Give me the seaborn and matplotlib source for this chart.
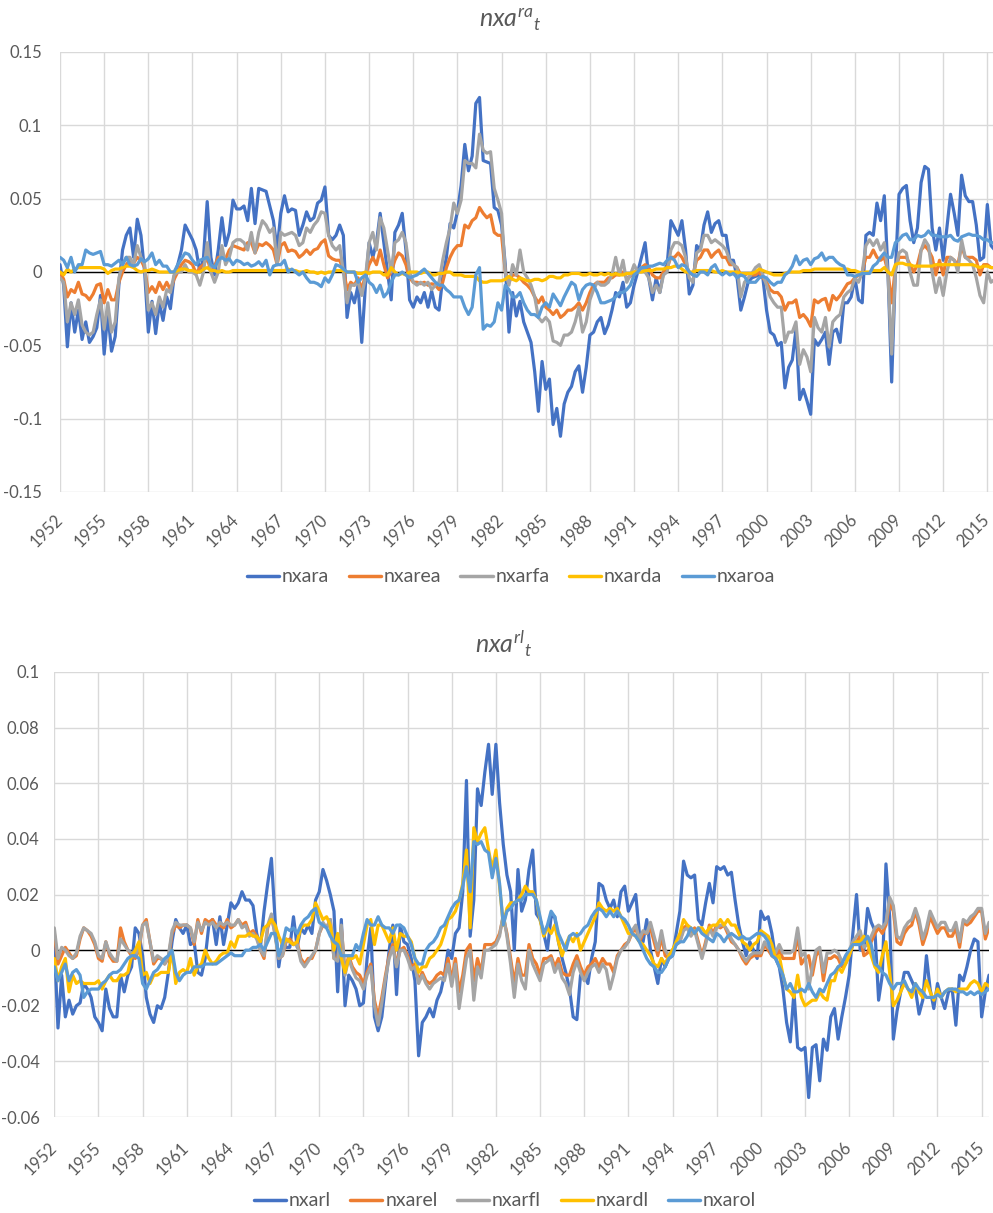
import numpy as np
import pandas as pd
import matplotlib
matplotlib.use("Agg")
import matplotlib.pyplot as plt
from matplotlib.lines import Line2D
import seaborn as sns

# quarterly, 1952Q1 - 2015Q3, values in thousandths
names_a = ['nxara', 'nxarea', 'nxarfa', 'nxarda', 'nxaroa']
names_l = ['nxarl', 'nxarel', 'nxarfl', 'nxardl', 'nxarol']
colors = ['#4472C4', '#ED7D31', '#A5A5A5', '#FFC000', '#5B9BD5']

nxara = [
    5, -9, -51, -21, -41, -26, -46, -34, -48, -44, -38, -16, -56, -28, -54, -44,
    -9, 15, 25, 30, 10, 36, 25, 0, -41, -20, -42, -21, -33, -17, -25, -3,
    5, 15, 32, 27, 22, 15, 0, 10, 48, 10, -2, 15, 37, 18, 27, 49,
    43, 43, 45, 35, 57, 33, 57, 56, 55, 45, 35, 15, 40, 52, 41, 43,
    42, 25, 32, 41, 35, 37, 47, 49, 58, 25, 22, 25, 32, 25, -31, -14,
    -21, -9, -48, -9, 20, 10, 20, 40, 20, 0, -19, 27, 32, 40, 15, -19,
    -24, -17, -21, -14, -24, -13, -24, -26, -4, 10, 33, 30, 41, 59, 87, 69,
    79, 115, 119, 76, 75, 74, 44, 42, 32, 5, -41, -14, -30, -20, -34, -41,
    -48, -68, -95, -61, -80, -73, -104, -93, -112, -90, -82, -78, -68, -64, -82, -65,
    -43, -41, -34, -31, -42, -36, -26, -14, -17, -7, -24, -21, -9, 0, 10, 20,
    -4, -19, -4, -14, 0, 5, 35, 30, 25, 35, 15, -15, -9, 18, 15, 32,
    41, 27, 33, 35, 25, 25, 8, 8, -4, -26, -17, -7, -4, -3, -2, -4,
    -26, -41, -43, -50, -48, -79, -65, -60, -39, -87, -80, -88, -97, -46, -50, -46,
    -41, -63, -41, -39, -48, -21, -21, -17, -4, -19, -21, 25, 27, 25, 47, 35,
    52, 0, -75, 0, 53, 57, 59, 35, 20, 30, 61, 72, 70, 30, 15, 30,
    8, 30, 53, 40, 25, 66, 52, 48, 48, 32, 8, 10, 46, 18, 15]
nxarea = [
    0, -5, -17, -12, -14, -7, -15, -16, -19, -15, -9, -8, -21, -12, -19, -19,
    -7, 0, 5, 8, 6, 10, 8, 3, -14, -10, -14, -7, -12, -7, -12, -5,
    0, 5, 8, 7, 5, -1, 3, 5, 10, 0, 4, 10, 10, 9, 15, 18,
    17, 16, 15, 20, 20, 13, 19, 18, 20, 18, 15, 5, 18, 20, 14, 15,
    14, 10, 12, 15, 12, 15, 16, 20, 22, 11, 9, 8, 8, 2, -12, -7,
    -9, -4, -12, -2, 5, 10, 5, 15, 5, -4, 0, 8, 13, 11, 5, -4,
    -7, -7, -8, -7, -9, -8, -9, -12, -7, 3, 10, 15, 18, 18, 32, 30,
    35, 37, 44, 40, 37, 39, 27, 25, 25, 0, -7, -2, -2, -4, -7, -9,
    -12, -17, -21, -17, -24, -26, -29, -26, -31, -29, -26, -26, -24, -21, -26, -21,
    -14, -9, -7, -7, -7, -4, -4, -2, -2, 0, -4, -3, 0, 0, 3, 5,
    3, -2, -4, -4, 0, 3, 10, 10, 13, 10, 5, 0, -2, 8, 10, 15,
    15, 10, 13, 15, 10, 10, 5, 5, 3, -2, -2, -1, -2, -2, 0, -4,
    -7, -12, -14, -14, -17, -26, -21, -21, -19, -31, -29, -32, -37, -19, -21, -19,
    -18, -26, -16, -19, -16, -12, -8, -7, -4, -2, 0, 10, 10, 15, 10, 8,
    10, 0, -21, 3, 10, 10, 10, 5, 0, 5, 15, 18, 15, 10, -2, 8,
    -2, 10, 10, 8, 5, 18, 10, 10, 10, 8, -2, 5, 5, 3, 3]
nxarfa = [
    -4, -7, -34, -21, -29, -19, -36, -41, -43, -41, -29, -19, -39, -21, -41, -34,
    -4, 5, 10, 10, 5, 18, 10, 5, -26, -21, -29, -17, -24, -12, -14, -2,
    0, 0, 5, 0, 0, -2, -9, 0, 20, 0, -7, 0, 18, 5, 10, 20,
    22, 22, 20, 15, 27, 13, 27, 35, 32, 27, 30, 5, 27, 25, 26, 27,
    25, 18, 20, 30, 27, 32, 35, 41, 40, 25, 18, 15, 18, 0, -21, -9,
    -9, -7, -16, -4, 20, 27, 15, 37, 30, 15, 0, 20, 22, 27, 20, 0,
    -7, -9, -7, -9, -7, -12, -9, -7, 8, 20, 30, 47, 40, 49, 76, 74,
    74, 71, 94, 83, 81, 82, 57, 49, 40, 0, -9, 5, -2, 15, 0, -4,
    -9, -17, -31, -34, -31, -34, -47, -48, -50, -43, -43, -41, -34, -24, -41, -34,
    -19, -12, -7, -9, -9, -7, -2, 10, -2, 8, -7, -2, 5, 0, 3, 0,
    -4, -14, -9, -14, -2, 0, 15, 20, 20, 18, 10, -4, -7, 13, 15, 25,
    25, 20, 22, 20, 18, 15, 8, 5, 3, -17, -7, -4, -1, 3, 5, -2,
    -9, -17, -21, -24, -24, -48, -41, -41, -34, -63, -53, -58, -68, -31, -38, -41,
    -31, -51, -34, -31, -29, -17, -14, -12, -4, -7, 0, 18, 22, 18, 22, 15,
    20, -2, -56, 0, 13, 15, 13, 0, -9, -9, 15, 22, 18, 0, -14, -4,
    -16, 0, 10, 8, 0, 22, 10, 8, 5, -4, -16, -21, 0, -7, -5]
nxarda = [
    0, -2, 2, 0, 2, 3, 3, 3, 3, 3, 3, 3, 2, -1, 1, 2,
    2, 3, 4, 4, 3, 1, 0, 1, 1, 2, 1, 0, 0, 0, 0, 0,
    1, 2, 2, 1, 1, 0, 0, 2, 3, 1, 1, 0, 1, 0, 0, 1,
    1, 1, 1, 1, 1, 1, 1, 1, 1, 1, 1, 1, 1, 1, 2, 1,
    1, 0, 0, 1, 0, 0, -1, 0, -1, 0, 0, 1, 1, 1, 0, 0,
    0, -1, -1, 0, -1, 0, 0, 0, -2, -2, 3, 0, -2, -1, -2, 0,
    0, 0, -1, 0, 0, -2, -2, -1, -1, 0, 0, -2, -2, -2, -3, -3,
    -3, -3, -6, -7, -7, -6, -6, -6, -6, -5, -3, -5, -6, -4, -5, -6,
    -6, -5, -5, -6, -5, -3, -3, -4, -4, -2, -2, -1, -1, -1, -2, -2,
    -1, -2, -2, -1, -2, -1, -2, -1, -2, -2, -1, -1, 0, 0, 0, 1,
    1, 1, 2, 2, 2, 3, 3, 4, 4, 2, 0, 0, 0, 1, 1, 1,
    1, 1, 0, 0, 1, 0, 0, 0, 0, -1, -1, -1, -1, 0, 2, 1,
    0, -1, -2, -2, -2, -1, 0, 0, 0, 0, 1, 1, 1, 2, 2, 2,
    2, 2, 2, 2, 2, 2, 2, 1, 1, 0, -1, 0, 0, 1, 1, 1,
    3, 0, -2, 5, 6, 6, 5, 5, 4, 4, 4, 4, 4, 4, 5, 5,
    5, 5, 5, 5, 5, 5, 5, 5, 5, 4, 3, 4, 4, 3, 3]
nxaroa = [
    10, 8, 3, 10, 0, 5, 5, 15, 13, 12, 13, 14, 5, 5, 4, 6,
    8, 5, 10, 5, 4, 5, 9, 7, 9, 13, 5, 8, 4, 4, 0, 0,
    5, 9, 13, 12, 8, 5, 8, 9, 10, 5, 3, 8, 10, 8, 9, 5,
    8, 7, 5, 6, 4, 5, 7, 4, 8, -2, 4, 5, 5, 8, 0, 2,
    0, -2, 0, -4, -7, -7, -8, -10, -4, -7, -2, 5, 4, 2, 0, 0,
    0, -7, -4, -2, -7, -9, -14, -9, -17, -14, -7, -2, -2, 0, -2, -4,
    -3, -2, 0, 2, -1, -4, -7, -9, -9, -12, -14, -17, -17, -17, -24, -29,
    -24, -2, 3, -39, -36, -37, -34, -21, -26, -9, -12, -17, -17, -14, -21, -26,
    -29, -29, -31, -24, -21, -24, -15, -19, -23, -17, -12, -7, -9, -19, -12, -9,
    -8, -9, -14, -21, -21, -20, -19, -17, -14, -14, -12, -9, -2, 0, 3, 3,
    4, 4, 5, 6, 5, 8, 10, 8, 3, 5, 4, 0, -2, -3, 0, 0,
    -2, 3, 5, 0, -2, 0, -2, -1, -4, -2, -3, -7, -7, -7, -4, -3,
    -4, -7, -9, -7, -7, -2, 0, 4, 11, 5, 8, 9, 5, 9, 10, 13,
    8, 10, 10, 7, 5, 4, -2, -2, -3, -2, -1, -1, -1, 4, 6, 10,
    13, 10, 10, 20, 22, 25, 26, 22, 22, 25, 24, 25, 28, 25, 25, 24,
    24, 24, 25, 22, 21, 24, 25, 26, 25, 25, 24, 22, 22, 20, 20]

nxarl = [
    3, -28, -9, -24, -18, -23, -20, -19, -12, -14, -17, -24, -26, -29, -14, -21,
    -24, -24, -9, -15, -9, -6, 8, 6, -2, -17, -23, -26, -20, -21, -17, -8,
    3, 11, 8, 6, 9, 2, 3, -8, -9, -3, 9, 11, 2, 12, 2, 9,
    17, 15, 17, 21, 18, 18, 16, 6, 1, 14, 24, 33, 11, -6, 3, 1,
    1, 12, 1, 8, 6, 9, 6, 18, 21, 29, 25, 20, 14, -15, 11, -20,
    -9, -11, -14, -20, -19, -3, 8, -24, -29, -24, -12, 0, 9, -16, 9, 3,
    2, -3, -11, -38, -26, -24, -21, -24, -18, -15, -9, 0, -3, 6, 8, 21,
    61, 5, 18, 58, 52, 64, 74, 56, 74, 53, 38, 27, 21, 0, 29, 14,
    18, 29, 36, 13, 11, 6, 0, 12, 12, 3, -3, -8, -14, -24, -25, -9,
    -9, -12, -3, 3, 24, 23, 18, 15, 18, 12, 21, 23, 14, 17, 20, 6,
    3, 11, 0, -6, -12, -3, -6, -3, -2, 6, 14, 32, 27, 26, 27, 11,
    9, 17, 24, 17, 30, 29, 30, 27, 28, 18, 9, 3, -2, 3, 0, -3,
    14, 11, 12, 6, -3, -6, -14, -26, -33, -15, -35, -36, -35, -53, -35, -34,
    -47, -32, -36, -24, -21, -32, -24, -17, -9, 6, 20, 0, 0, 15, 10, 7,
    -18, -9, 31, 12, -32, -22, -15, -8, -8, -11, -14, -23, -18, -2, -14, -21,
    -12, -17, -21, -15, -14, -27, -9, -11, -6, 0, 4, 3, -24, -15, -9]
nxarel = [
    6, -5, -2, 1, -1, -3, -2, 4, 8, 7, 5, 2, -3, -4, 3, -2,
    -4, -4, 8, 3, 0, -2, -3, 0, 9, 11, 3, -5, -3, -3, -5, -3,
    6, 9, 8, 9, 9, 8, 2, 11, 6, 11, 10, 11, 9, 9, 8, 11,
    8, 9, 11, 9, 10, 6, 7, 5, 0, -3, 8, 12, 6, -3, -2, 3,
    4, 2, 3, -3, -5, -3, -3, 0, 6, 9, 8, 11, -3, -3, 8, -8,
    -2, -6, -8, -9, -12, -8, -5, -18, -24, -17, -9, -2, 2, -5, 0, 1,
    -2, -6, -5, -11, -8, -11, -12, -11, -9, -8, -9, -3, -11, -3, -15, -9,
    0, 2, -11, -3, -8, 2, 2, 2, 3, 6, 12, 6, -3, -12, -3, -9,
    -9, 2, -3, -5, -9, -3, -3, -2, -6, -3, -8, -9, -9, -5, -2, -6,
    -9, -6, -5, -3, -6, -3, -5, -5, -8, -2, 0, 2, 3, 6, 8, 3,
    6, 6, 8, 3, -2, 5, -2, -3, 0, 2, 3, 8, 9, 6, 8, 3,
    -2, 3, 9, 6, 9, 8, 9, 6, 3, 2, 0, -3, -5, -3, -2, -2,
    -2, 2, 0, -2, -3, 0, -3, -3, -3, -3, 6, -5, -3, -2, -9, -2,
    0, -11, -3, -3, -2, -3, -6, -5, -2, 2, 3, 5, -2, -1, 3, 6,
    8, 6, 9, 17, 14, 3, 2, 6, 8, 9, 14, 9, 2, 6, 12, 9,
    6, 8, 8, 5, 5, 8, 1, 10, 9, 10, 12, 14, 14, 4, 8]
nxarfl = [
    8, -3, 1, 0, -2, -3, -1, 5, 8, 7, 6, 3, -2, -3, 3, -1,
    -3, -4, 4, 2, 0, -1, -2, 1, 9, 10, 3, -4, -2, -3, -5, -2,
    7, 10, 9, 9, 9, 8, 3, 10, 7, 10, 9, 10, 8, 10, 9, 10,
    9, 9, 11, 8, 9, 5, 6, 4, 0, -2, 9, 13, 5, -3, -2, 4,
    3, 2, 2, -4, -6, -4, -2, 0, 6, 10, 8, 11, -3, -4, 9, -9,
    -3, -7, -10, -11, -14, -9, -6, -20, -27, -19, -10, -3, 1, -6, 0, 0,
    -3, -7, -6, -12, -9, -12, -14, -12, -11, -10, -11, -5, -13, -5, -21, -12,
    -3, 0, -18, -6, -10, 0, 0, 1, 2, 5, 13, 5, -5, -17, -5, -11,
    -14, 0, -5, -8, -11, -5, -4, -3, -8, -5, -10, -12, -16, -8, -4, -8,
    -11, -8, -6, -5, -8, -5, -7, -14, -9, -3, 0, 1, 3, 7, 9, 4,
    7, 6, 10, 5, 0, 7, 0, -2, 0, 2, 3, 7, 8, 5, 7, 2,
    -3, 2, 8, 5, 8, 9, 9, 7, 4, 2, 0, -2, -4, -2, -1, -1,
    -1, 3, 1, 0, -1, 2, -1, -1, -1, 0, 8, -2, -1, -14, -6, 0,
    1, -8, -1, -1, 0, -1, -4, -3, 0, 3, 5, 7, 1, 2, 5, 8,
    9, 8, 10, 19, 16, 5, 4, 8, 10, 11, 15, 11, 4, 8, 14, 11,
    8, 10, 10, 7, 7, 10, 3, 11, 10, 12, 13, 15, 15, 6, 10]
nxardl = [
    -3, -11, -6, -3, -15, -9, -12, -11, -12, -12, -12, -12, -11, -14, -11, -9,
    -11, -11, -9, -9, -8, -2, 0, 3, -9, -8, -12, -9, -9, -8, -8, -8,
    0, -12, -8, -7, -8, -3, -9, -6, -5, 0, -3, -5, -4, -2, -1, -1,
    3, 1, 5, 5, 5, 6, 5, 5, 3, 8, 9, 11, 9, 5, 2, 4,
    3, 2, 3, 8, 9, 9, 11, 17, 14, 11, 12, 9, 0, 6, -3, -8,
    -3, -3, -2, -5, 2, 9, 11, 2, 9, 9, 6, 3, 8, 0, 6, 5,
    5, 3, -3, -8, -6, -6, -3, -2, 0, 2, 6, 11, 12, 14, 18, 24,
    36, 8, 44, 39, 42, 44, 36, 29, 36, 23, 9, 15, 17, 17, 18, 20,
    23, 21, 21, 18, 11, 5, 8, 6, 9, 3, -2, 2, 5, 3, 6, 0,
    3, 6, 9, 12, 17, 15, 14, 15, 14, 15, 12, 9, 6, 6, 5, 3,
    2, 0, -2, -5, -6, -3, -5, -2, 0, 3, 6, 11, 9, 8, 6, 8,
    8, 6, 8, 9, 9, 11, 9, 11, 9, 9, 6, 3, 2, 0, 2, 3,
    7, 6, 5, 2, -3, -2, -9, -14, -15, -17, -9, -17, -20, -19, -18, -18,
    -15, -17, -18, -11, -11, -6, -8, -5, -2, 2, 3, 3, 5, 3, -2, -6,
    -8, -2, 3, -8, -20, -18, -15, -12, -14, -17, -12, -15, -17, -11, -15, -18,
    -14, -17, -15, -14, -14, -15, -14, -14, -14, -12, -11, -12, -15, -12, -13]
nxarol = [
    -6, -11, -8, -5, -11, -8, -7, -9, -17, -15, -14, -14, -14, -12, -11, -9,
    -8, -8, -7, -5, -3, -2, -2, -3, -12, -14, -11, -8, -7, -5, -3, -2,
    0, -8, -11, -9, -8, -8, -6, -6, -6, -5, -5, -5, -5, -4, -3, -2,
    -1, -2, -2, -2, 0, 0, 1, 1, 2, 0, 3, 6, 6, -2, 2, 8,
    7, 8, 6, 9, 11, 12, 14, 15, 10, 9, 8, 5, 3, 2, -2, -2,
    -2, -2, 2, 0, 6, 11, 9, 9, 12, 9, 8, 8, 6, 9, 9, 8,
    5, 2, -3, -5, -5, 0, 2, 3, 5, 8, 9, 12, 15, 17, 18, 23,
    30, 21, 39, 38, 39, 36, 35, 26, 33, 24, 9, 14, 15, 17, 18, 18,
    20, 20, 20, 18, 12, 6, 9, 14, 12, 6, 3, 0, 5, 6, 5, 6,
    8, 9, 12, 14, 15, 14, 12, 14, 12, 14, 12, 11, 9, 6, 5, 3,
    0, -3, -5, -6, -8, -8, -6, -3, -2, 2, 3, 3, 5, 8, 6, 8,
    6, 5, 4, 3, 6, 5, 3, 5, 6, 5, 4, 5, 4, 4, 5, 6,
    6, 5, 3, -2, -3, -6, -9, -14, -12, -15, -15, -14, -15, -12, -15, -17,
    -14, -15, -12, -9, -8, -6, -5, -2, 0, 2, 2, 2, 3, 5, 2, -5,
    -6, -8, -9, -12, -14, -12, -12, -11, -14, -15, -12, -14, -15, -17, -17, -17,
    -16, -17, -15, -14, -14, -14, -15, -15, -16, -15, -16, -15, -16, -15, -14]

year_labels = [str(y) for y in range(1952, 2016, 3)]
yt_a = [0.15, 0.1, 0.05, 0, -0.05, -0.1, -0.15]
yl_a = ['0.15', '0.1', '0.05', '0', '-0.05', '-0.1', '-0.15']
yt_l = [0.1, 0.08, 0.06, 0.04, 0.02, 0, -0.02, -0.04, -0.06]
yl_l = ['0.1', '0.08', '0.06', '0.04', '0.02', '0', '-0.02', '-0.04', '-0.06']

sns.set_theme(style="white")
plt.rcParams['font.family'] = ['Lato', 'DejaVu Sans']
plt.rcParams['mathtext.fontset'] = 'custom'
plt.rcParams['mathtext.it'] = 'Lato:italic'
plt.rcParams['mathtext.rm'] = 'Lato'
txt = '#595959'


def long_frame(names, series):
    parts = []
    for nm, s in zip(names, series):
        parts.append(pd.DataFrame({'q': np.arange(len(s)), 'v': np.array(s) / 1000.0, 'name': nm}))
    return pd.concat(parts, ignore_index=True)


def panel(ax, names, series, yt, yl, ylim, xpad, ypad):
    df = long_frame(names, series)
    sns.lineplot(data=df, x='q', y='v', hue='name', hue_order=names,
                 palette=dict(zip(names, colors)), linewidth=2.3,
                 errorbar=None, legend=False, ax=ax)
    ax.axhline(0, color='black', lw=1.0, zorder=1.5)
    ax.set_xlim(0, 254)
    ax.set_ylim(*ylim)
    ax.set_xticks(np.arange(0, 255, 12))
    ax.set_xticklabels(year_labels, rotation=45, ha='right', va='center',
                       rotation_mode='anchor')
    ax.set_yticks(yt)
    ax.set_yticklabels(yl)
    ax.grid(True, color='#D9D9D9', lw=1.0)
    ax.set_axisbelow(True)
    for sp in ax.spines.values():
        sp.set_visible(False)
    ax.tick_params(axis='both', length=0, labelsize=12, labelcolor=txt)
    ax.tick_params(axis='y', pad=ypad)
    ax.tick_params(axis='x', pad=xpad)
    ax.set_xlabel('')
    ax.set_ylabel('')


fig = plt.figure(figsize=(9.93, 12.13), dpi=100)
W, H = 993, 1213
ax1 = fig.add_axes([60 / W, 721 / H, (994.7 - 60) / W, 440 / H])
ax2 = fig.add_axes([54.3 / W, 96 / H, (989 - 54.3) / W, 445 / H])

panel(ax1, names_a, [nxara, nxarea, nxarfa, nxarda, nxaroa], yt_a, yl_a, (-0.15, 0.15), 18, 13)
panel(ax2, names_l, [nxarl, nxarel, nxarfl, nxardl, nxarol], yt_l, yl_l, (-0.06, 0.1), 20, 10.5)

fig.text(510 / W, 1 - 20 / H, r'$nxa^{ra}{}_{t}$', ha='center', va='center',
         fontsize=18, color=txt)
fig.text(504 / W, 1 - 644 / H, r'$nxa^{rl}{}_{t}$', ha='center', va='center',
         fontsize=18, color=txt)

handles = [Line2D([], [], color=c, lw=2.5) for c in colors]
leg_kw = dict(loc='center', ncol=5, frameon=False, fontsize=14, handlelength=1.65,
              handletextpad=0.15, columnspacing=1.0, labelcolor=txt)
fig.legend(handles, names_a, bbox_to_anchor=(511 / W, 1 - 577 / H), **leg_kw)
fig.legend(handles, names_l, bbox_to_anchor=(505 / W, 1 - 1201 / H), **leg_kw)

fig.savefig('out.png', dpi=100)
